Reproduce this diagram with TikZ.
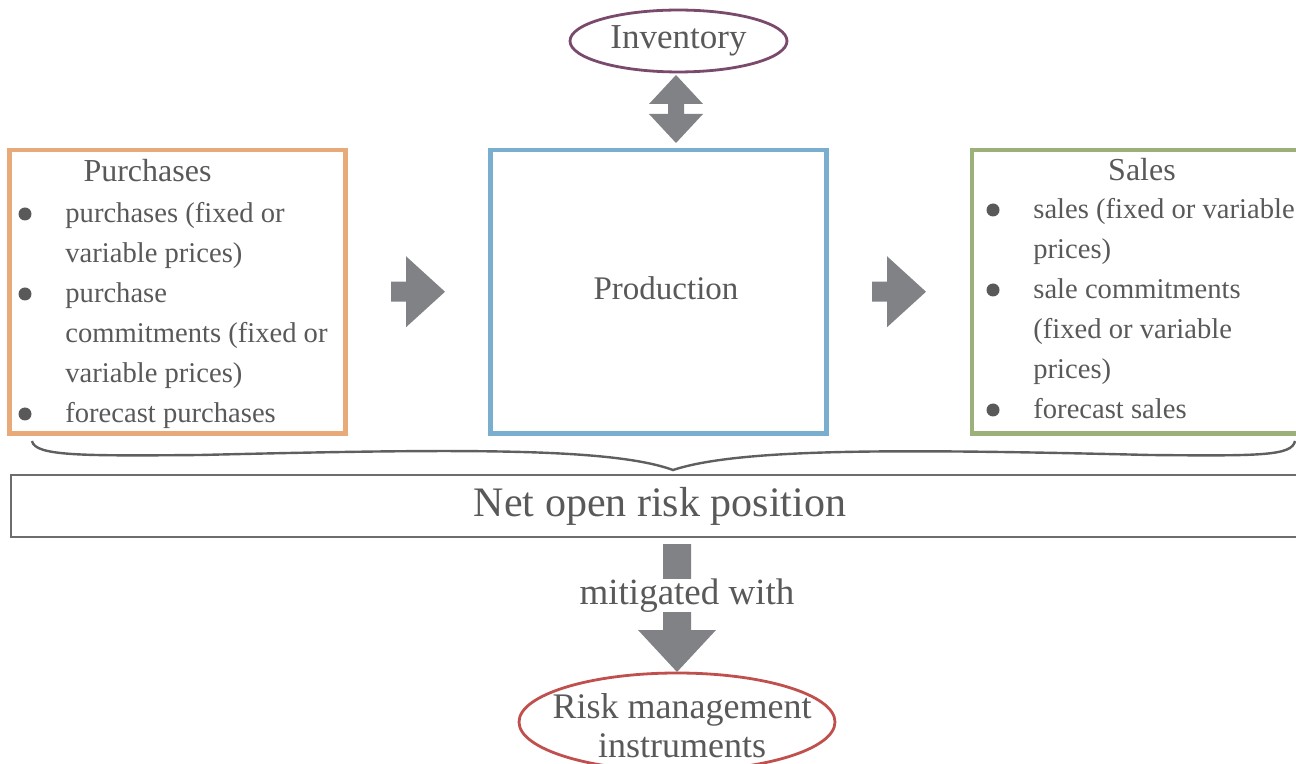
\documentclass[tikz,border=0pt]{standalone}
\usepackage{fontspec}
\setmainfont{Liberation Serif}
\usetikzlibrary{shapes.geometric, calc}
\definecolor{txtgrey}{HTML}{595959}
\definecolor{arrowgrey}{HTML}{808285}
\definecolor{purchorange}{HTML}{E7AA78}
\definecolor{prodblue}{HTML}{7AAECF}
\definecolor{salesgreen}{HTML}{9CB07A}
\definecolor{invpurple}{HTML}{7A4A6C}
\definecolor{riskred}{HTML}{C0504D}
\definecolor{netgrey}{HTML}{6D6D6D}
\definecolor{bracegrey}{HTML}{5F5F5F}
\tikzstyle{box}=[rectangle, draw, line width=2.25pt, outer sep=0pt, minimum width=168pt, minimum height=141.75pt]
\tikzstyle{oval}=[ellipse, draw, line width=1.4pt, text=txtgrey]
\tikzstyle{listitem}=[anchor=base west, inner sep=0pt, text=txtgrey, font=\fontsize{14.3}{20}\selectfont]
\tikzstyle{heading}=[anchor=base, inner sep=0pt, text=txtgrey, font=\fontsize{16}{20}\selectfont]
\tikzstyle{dot}=[circle, fill=txtgrey, inner sep=0pt, minimum size=6.5pt]
\tikzstyle{blockarrow}=[fill=arrowgrey]
\begin{document}
\begin{tikzpicture}[x=0.5pt, y=-0.5pt]
                    \useasboundingbox (0,0) rectangle (1296,764);
                    \node[oval, draw=invpurple, minimum width=108.5pt, minimum height=29pt, font=\fontsize{17.5}{20}\selectfont] (inv) at (678.5, 41) {Inventory};
                    \node[box, draw=purchorange] (purch) at (177.5, 291.75) {};
                    \node[box, draw=prodblue] (prod) at (658.5, 291.75) {};
                    \node[box, draw=salesgreen] (sales) at (1140, 291.75) {};
                    \node[heading] (ph) at (147.5, 182) {Purchases};
                    \node[heading] (sh) at (1142, 181) {Sales};
                    \node[heading, font=\fontsize{16.5}{20}\selectfont] (pt) at (666, 300) {Production};
                    \foreach \t [count=\i from 0] in {purchases (fixed or,variable prices),purchase,commitments (fixed or,variable prices),forecast purchases}
                        \node[listitem] (p\i) at (65, {223+40*\i}) {\t};
                    \foreach \t [count=\i from 0] in {sales (fixed or variable,prices),sale commitments,{(fixed or variable},prices),forecast sales}
                        \node[listitem] (s\i) at (1033, {219+40*\i}) {\t};
                    \foreach \i in {0,2,5}
                        \node[dot] (pd\i) at (25, {214+40*\i}) {};
                    \foreach \i in {0,2,5}
                        \node[dot] (sd\i) at (993, {210+40*\i}) {};
                    \coordinate (ia) at (676, 75);
                    \fill[blockarrow] (ia) -- ++(27,29) -- ++(-19,0) -- ++(0,10) -- ++(19,0) -- ++(-27,29) -- ++(-27,-29) -- ++(19,0) -- ++(0,-10) -- ++(-19,0) -- cycle;
                    \coordinate (a1) at ($(purch.east)+(45.5,0)$);
                    \coordinate (a2) at ($(prod.east)+(45.5,0)$);
                    \foreach \a in {a1,a2}
                        \fill[blockarrow] (\a) ++(0,-10) -- ++(15,0) -- ++(0,-25.5) -- ++(39,35.5) -- ++(-39,35.5) -- ++(0,-25.5) -- ++(-15,0) -- cycle;
                    \draw[bracegrey, line width=1.2pt] (32,441) .. controls (35,456) and (80,456) .. (200,455) .. controls (450,449) and (610,447) .. (673,470) .. controls (740,448) and (900,449) .. (1150,455) .. controls (1260,456) and (1292,456) .. (1295,441);
                    \node[rectangle, draw=netgrey, line width=1.4pt, outer sep=0pt, minimum width=649pt, minimum height=31pt, text=txtgrey, font=\fontsize{21}{24}\selectfont] (net) at (660, 506) {Net open risk position};
                    \node[oval, draw=riskred, minimum width=158pt, minimum height=49pt] (risk) at (677, 722) {};
                    \node[heading, font=\fontsize{18}{20}\selectfont] (r1) at (682, 718) {Risk management};
                    \node[heading, font=\fontsize{18}{20}\selectfont] (r2) at (682, 757) {instruments};
                    \coordinate (da) at ($(risk.north |- net.south)+(0,7)$);
                    \fill[blockarrow] (da) ++(-14,0) -- ++(28,0) -- ++(0,86) -- ++(25,0) -- ++(-39,42) -- ++(-39,-42) -- ++(25,0) -- cycle;
                    \node[fill=white, inner xsep=2pt, inner ysep=0pt, minimum height=16.5pt, text=txtgrey, font=\fontsize{18.5}{20}\selectfont] (mit) at (687, 595.5) {mitigated with};
                \end{tikzpicture}
\end{document}
